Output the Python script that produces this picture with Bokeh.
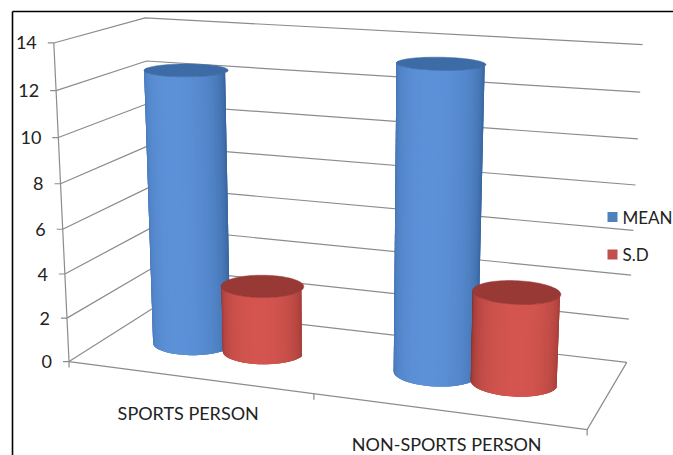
import numpy as np
from bokeh.plotting import figure
from bokeh.models import Range1d
from bokeh.embed import file_html
from bokeh.resources import INLINE
from bokeh.core.properties import value

# ---------------- data ----------------
categories = ["SPORTS PERSON", "NON-SPORTS PERSON"]
series_names = ["MEAN", "S.D"]
mean_values = [12.45, 13.4]
sd_values = [3.05, 4.0]
y_ticks = [0, 2, 4, 6, 8, 10, 12, 14]
y_max = 14

series_values = [mean_values, sd_values]

# ---------------- style ----------------
FONT = value("Lato")
TEXT_COLOR = "#222222"
GRID_COLOR = "#8c8c8c"
series_style = [
    dict(dark="#2c578d", light="#5c91d8", top="#3d6ba6", legend="#4f81bd", phi=0.05),   # MEAN
    dict(dark="#7a2826", light="#d4554f", top="#983936", legend="#c0504d", phi=0.25),   # S.D
]

# ---------------- perspective camera (fit from plot-box corners) ----------------
# (u, w, s): u = along categories 0..1, w = depth 0(front)..1(back), s = value / y_max
box_uws = [(0, 0, 0), (1, 0, 0), (1, 1, 0), (0, 1, 0), (0, 0, 1), (0, 1, 1), (1, 1, 1),
           (0, 0, 2 / 14), (0, 0, 6 / 14), (0, 0, 10 / 14)]
box_px = [(69, 361), (587, 429), (626, 362), (154, 307), (53, 43), (145, 17), (642, 44),
          (66, 317), (62, 229), (58, 137)]
rows, rhs = [], []
for (u, w, s), (x, y) in zip(box_uws, box_px):
    rows.append([u, w, s, 1, 0, 0, 0, 0, -x * u, -x * w, -x * s]); rhs.append(x)
    rows.append([0, 0, 0, 0, u, w, s, 1, -y * u, -y * w, -y * s]); rhs.append(y)
sol = np.linalg.lstsq(np.array(rows, float), np.array(rhs, float), rcond=None)[0]
P = np.array([sol[0:4], sol[4:8], list(sol[8:11]) + [1.0]])


def proj(u, w, v):
    s = np.asarray(v, float) / y_max
    u = np.asarray(u, float) + 0 * s
    w = np.asarray(w, float) + 0 * s
    X = P[0, 0] * u + P[0, 1] * w + P[0, 2] * s + P[0, 3]
    Y = P[1, 0] * u + P[1, 1] * w + P[1, 2] * s + P[1, 3]
    Z = P[2, 0] * u + P[2, 1] * w + P[2, 2] * s + P[2, 3]
    return X / Z, Y / Z


def hex2rgb(h):
    h = h.lstrip("#")
    return np.array([int(h[i:i + 2], 16) for i in (0, 2, 4)], float)


def mix(c1, c2, t):
    a, b = hex2rgb(c1), hex2rgb(c2)
    c = a + (b - a) * t
    return "#%02x%02x%02x" % tuple(int(round(v)) for v in np.clip(c, 0, 255))


p = figure(width=673, height=455, x_range=Range1d(0, 673), y_range=Range1d(455, 0),
           output_backend="svg", toolbar_location=None,
           x_axis_location=None, y_axis_location=None, min_border=0)
p.outline_line_color = None
p.background_fill_color = "white"
p.border_fill_color = "white"
p.xgrid.visible = False
p.ygrid.visible = False

# ---------------- chart border ----------------
p.line(x=[12, 12], y=[455, 11], line_color="#000000", line_width=1.6)
p.line(x=[12, 673], y=[11, 11], line_color="#000000", line_width=1.6)

# ---------------- walls & gridlines ----------------
gx, gy = [], []
for t in y_ticks:
    x0, y0 = proj(0, 0, t)
    x1, y1 = proj(0, 1, t)
    x2, y2 = proj(1, 1, t)
    gx.append([float(x0), float(x1), float(x2)])
    gy.append([float(y0), float(y1), float(y2)])
fa = proj(0, 0, 0); fb = proj(1, 0, 0); fc = proj(1, 1, 0)
gx.append([float(fa[0]), float(fb[0]), float(fc[0])])
gy.append([float(fa[1]), float(fb[1]), float(fc[1])])
ta = proj(0, 0, y_max)
gx.append([float(fa[0]), float(ta[0])])
gy.append([float(fa[1]), float(ta[1])])
for t in y_ticks:
    x0, y0 = proj(0, 0, t)
    gx.append([float(x0) - 6, float(x0)])
    gy.append([float(y0), float(y0)])
n = len(categories)
for i in range(n + 1):
    x0, y0 = proj(i / n, 0, 0)
    gx.append([float(x0), float(x0)])
    gy.append([float(y0), float(y0) + 6])
p.multi_line(xs=gx, ys=gy, line_color=GRID_COLOR, line_width=1.2)

# value tick labels
lx, ly = [], []
for t in y_ticks:
    x0, y0 = proj(0, 0, t)
    lx.append(float(x0) - 17)
    ly.append(float(y0))
p.text(x=lx, y=ly, text=[str(t) for t in y_ticks], text_font=FONT, text_font_size="18px",
       text_align="right", text_baseline="middle", text_color=TEXT_COLOR)

# category labels
cx, cy = [], []
for i in range(n):
    x0, y0 = proj((i + 0.5) / n, 0, 0)
    cx.append(float(x0))
    cy.append(min(float(y0) + 36, 443.0))
p.text(x=cx, y=cy, text=categories, text_font=FONT, text_font_size="18px",
       text_align="center", text_baseline="middle", text_color=TEXT_COLOR)

# ---------------- cylinders ----------------
m = len(series_names)
offset = 0.15
r_u, r_w = 0.08, 0.2
N = 40
for i in range(n):
    for j in range(m):
        val = series_values[j][i]
        st = series_style[j]
        uc = (i + 0.5) / n + (j - (m - 1) / 2) * offset
        wc = 0.5
        th = np.linspace(np.pi, 2 * np.pi, N + 1)
        us = uc + r_u * np.cos(th)
        ws = wc + r_w * np.sin(th)
        bx, by = proj(us, ws, 0)
        tx, ty = proj(us, ws, val)
        base = mix(st["dark"], st["light"], 0.6)
        p.patch(x=bx.tolist() + tx[::-1].tolist(), y=by.tolist() + ty[::-1].tolist(),
                fill_color=base, line_color=None)
        xs, ys, cols = [], [], []
        for k in range(N):
            k2 = min(k + 2, N)
            xs.append([float(bx[k]), float(bx[k2]), float(tx[k2]), float(tx[k])])
            ys.append([float(by[k]), float(by[k2]), float(ty[k2]), float(ty[k])])
            tm = 0.5 * (th[k] + th[k + 1])
            inten = max(0.0, -np.sin(tm - st["phi"]))
            cols.append(mix(st["dark"], st["light"], inten ** 0.55))
        p.patches(xs=xs, ys=ys, fill_color=cols, line_color=None)
        ta_ = np.linspace(0, 2 * np.pi, 97)
        ex, ey = proj(uc + r_u * np.cos(ta_), wc + r_w * np.sin(ta_), val)
        p.patch(x=ex.tolist(), y=ey.tolist(), fill_color=st["top"], line_color=st["top"],
                line_width=0.5)

# ---------------- legend ----------------
leg_x = 612
leg_y = [216.5, 254]
p.scatter(x=[leg_x] * m, y=leg_y, marker="square", size=10,
          fill_color=[s["legend"] for s in series_style], line_color=None)
p.text(x=[leg_x + 10] * m, y=leg_y, text=series_names, text_font=FONT, text_font_size="17px",
       text_align="left", text_baseline="middle", text_color=TEXT_COLOR)

open("out.html", "w").write(file_html(p, INLINE))
